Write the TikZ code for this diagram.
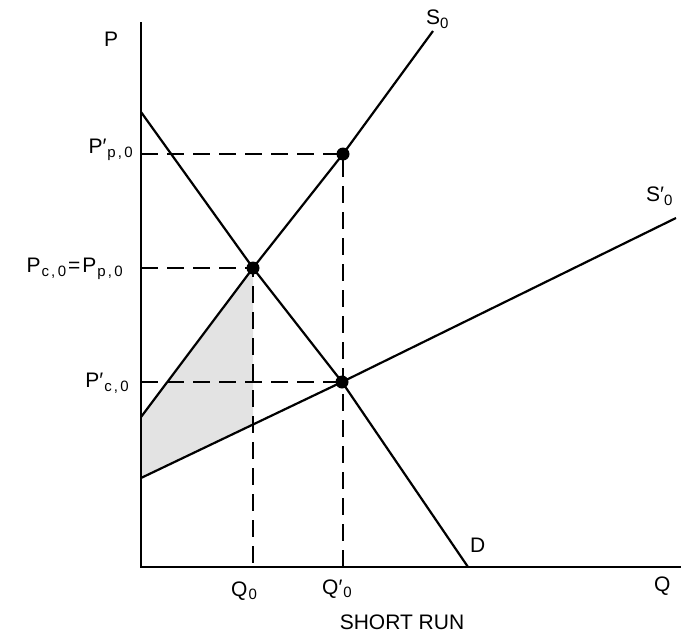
\documentclass[tikz,border=0pt]{standalone}
\usepackage{fontspec}
\setmainfont{Liberation Sans}
\newcommand{\lsub}[1]{{\fontsize{15}{15}\selectfont\raisebox{-0.45ex}{#1}}}
\newcommand{\pc}{\kern2pt,\kern2.5pt}
\newcommand{\pr}{′}
\begin{document}
\begin{tikzpicture}[x=1pt,y=-1pt,
  curve/.style={line width=2.2pt},
  axis/.style={line width=1.8pt},
  guide/.style={line width=2.2pt, dash pattern=on 17pt off 9pt},
  lbl/.style={inner sep=0pt, font=\fontsize{21}{21}\selectfont},
  dot/.style={circle, fill=black, inner sep=0pt, minimum size=13pt}]
\useasboundingbox (0,0) rectangle (681,640);
% key points
\coordinate (O) at (141,567);
\coordinate (Ytop) at (141,22);
\coordinate (Xend) at (681,567);
\coordinate (Dtop) at (141,112);
\coordinate (Dbot) at (468,567);
\coordinate (S0a) at (141,417);
\coordinate (S0b) at (433,31);
\coordinate (S1a) at (141,478);
\coordinate (S1b) at (676,218);
\coordinate (A) at (253,268);
\coordinate (B) at (342,382);
\coordinate (C) at (343,154);
\coordinate (Ay) at (141,268);
\coordinate (By) at (141,382);
\coordinate (Cy) at (141,154);
\coordinate (Ax) at (253,567);
\coordinate (Cx) at (343,567);
\coordinate (Alow) at (253,424);
% shaded area
\fill[gray!22] (S0a) -- (A) -- (Alow) -- (S1a) -- cycle;
% guides
\draw[guide] (Cy) -- (C) -- (Cx);
\draw[guide] (Ay) -- (A) -- (Ax);
\draw[guide] (By) -- (B);
% axes
\draw[axis] (Ytop) -- (O) -- (Xend);
% curves
\draw[curve] (Dtop) -- (A) -- (B) -- (Dbot);
\draw[curve] (S0a) -- (A) -- (C) -- (S0b);
\draw[curve] (S1a) -- (B) -- (S1b);
% dots
\node[dot] (dA) at (A) {};
\node[dot] (dB) at (B) {};
\node[dot] (dC) at (C) {};
% labels
\node[lbl, anchor=west] (lP) at (104,39) {P};
\node[lbl, anchor=west] (lQ) at (654,586) {Q};
\node[lbl, anchor=west] (lD) at (470,545) {D};
\node[lbl, anchor=west] (lS0) at (426,19) {S\lsub{0}};
\node[lbl, anchor=west] (lS1) at (646,196) {S\pr\lsub{0}};
\node[lbl, anchor=east] (lPp) at (133,150) {P\pr\kern1pt\lsub{p\pc0}};
\node[lbl, anchor=east] (lPc) at (123,269) {P\kern1pt\lsub{c\pc0}\kern2pt=\kern2pt P\kern1pt\lsub{p\pc0}};
\node[lbl, anchor=east] (lPcp) at (129,383) {P\pr\kern1pt\lsub{c\pc0}};
\node[lbl, anchor=west] (lQ0) at (231,591) {Q\kern1pt\lsub{0}};
\node[lbl, anchor=west] (lQ0p) at (322,589) {Q\pr\kern1pt\lsub{0}};
\node[lbl, anchor=center] (lSR) at (402,622) {SHORT RUN};
\end{tikzpicture}
\end{document}
